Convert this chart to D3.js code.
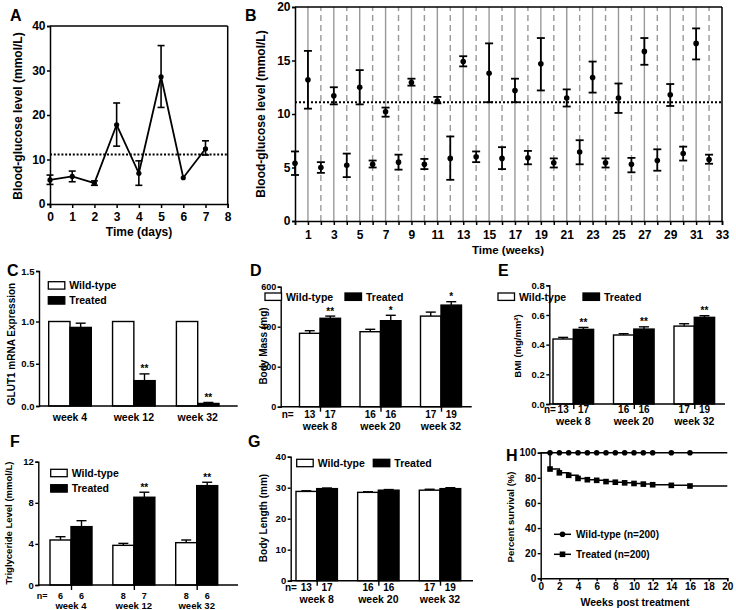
<!DOCTYPE html>
<html><head><meta charset="utf-8">
<script src="https://cdn.jsdelivr.net/npm/d3@7"></script>
<style>
body{margin:0;background:#fff;}
svg text{font-family:"Liberation Sans",Arial,Helvetica,sans-serif;font-weight:bold;fill:#000;}
</style></head><body>
<svg id="fig" width="736" height="610"></svg>
<script>
// ---------------- DATA ----------------
// Panel A
const daysA = [0,1,2,3,4,5,6,7];
const glucoseA = [5.4,6.2,4.7,17.8,6.9,28.6,5.9,12.4];
const glucoseALow = [4.4,5.0,4.2,13.0,4.2,21.7,5.9,11.0];
const glucoseAHigh = [6.5,7.4,5.2,22.7,9.7,35.6,5.9,14.2];
const threshold = 11.1;
const xTicksA = [0,1,2,3,4,5,6,7,8];
const yTicksA = [0,10,20,30,40];

// Panel B
const weeksB = [0,1,2,3,4,5,6,7,8,9,10,11,12,13,14,15,16,17,18,19,20,21,22,23,24,25,26,27,28,29,30,31,32];
const glucoseB = [5.4,13.2,5.0,11.7,5.2,12.5,5.3,10.2,5.5,12.95,5.3,11.2,5.85,14.9,6.0,13.8,5.85,12.2,5.9,14.7,5.45,11.5,6.45,13.4,5.45,11.5,5.3,15.85,5.65,11.8,6.3,16.6,5.75];
const glucoseBLow = [4.3,10.5,4.5,10.9,4.1,10.9,5.0,9.75,4.8,12.65,4.85,11.0,3.85,14.45,5.5,11.1,4.85,11.1,5.3,12.2,5.0,10.7,5.3,12.0,5.0,10.1,4.55,14.6,4.7,10.75,5.65,15.1,5.35];
const glucoseBHigh = [6.5,15.9,5.5,12.5,6.3,14.1,5.65,10.6,6.2,13.3,5.8,11.6,7.9,15.4,6.5,16.6,6.9,13.3,6.55,17.1,5.85,12.3,7.55,14.9,5.85,12.85,5.9,17.1,6.7,12.8,6.95,18.0,6.2];
const xTicksB = [0,1,2,3,4,5,6,7,8,9,10,11,12,13,14,15,16,17,18,19,20,21,22,23,24,25,26,27,28,29,30,31,32,33];
const yTicksB = [0,5,10,15,20];

// Panel C
const groupsC = ["week 4","week 12","week 32"];
const glutWT = [1,1,1];
const glutWTErr = [0,0,0];
const glutTr = [0.93,0.30,0.03];
const glutTrErr = [0.05,0.08,0.012];
const glutSig = ["","**","**"];
const yTicksC = [0,0.5,1.0,1.5];

// Panel D
const groupsD = ["week 8","week 20","week 32"];
const massWT = [367,375,453];
const massWTErr = [13,12,20];
const massTr = [442,430,508];
const massTrErr = [11,27,17];
const massSig = ["**","*","*"];
const nWT_D = ["13","16","17"];
const nTr_D = ["17","16","19"];
const yTicksD = [0,200,400,600];

// Panel E
const groupsE = ["week 8","week 20","week 32"];
const bmiWT = [0.438,0.465,0.525];
const bmiWTErr = [0.011,0.009,0.016];
const bmiTr = [0.503,0.505,0.584];
const bmiTrErr = [0.013,0.015,0.011];
const bmiSig = ["**","**","**"];
const nWT_E = ["13","16","17"];
const nTr_E = ["17","16","19"];
const yTicksE = [0,0.2,0.4,0.6,0.8];

// Panel F
const groupsF = ["week 4","week 12","week 32"];
const tgWT = [4.38,3.86,4.12];
const tgWTErr = [0.32,0.19,0.26];
const tgTr = [5.68,8.54,9.67];
const tgTrErr = [0.58,0.49,0.33];
const tgSig = ["","**","**"];
const nWT_F = ["6","8","8"];
const nTr_F = ["6","7","6"];
const yTicksF = [0,4,8,12];

// Panel G
const groupsG = ["week 8","week 20","week 32"];
const lenWT = [28.8,28.5,29.2];
const lenWTErr = [0.2,0.2,0.3];
const lenTr = [29.7,29.2,29.7];
const lenTrErr = [0.2,0.2,0.3];
const lenSig = ["","",""];
const nWT_G = ["13","16","17"];
const nTr_G = ["17","16","19"];
const yTicksG = [0,10,20,30,40];

// Panel H
const survWeeks = [0,1,2,3,4,5,6,7,8,9,10,11,12,14,16,20];
const survWT = [100,100,100,100,100,100,100,100,100,100,100,100,100,100,100,100];
const survTr = [100,87,84,82,79.5,78.5,78,77,76.5,76,75.5,75,74.5,74,73.5,73.5];
const survMarked = [1,2,3,4,5,6,7,8,9,10,11,12,14,16];
const xTicksH = [0,2,4,6,8,10,12,14,16,18,20];
const yTicksH = [0,20,40,60,80,100];

// ---------------- DRAW ----------------
const svg = d3.select("#fig");
svg.append("rect").attr("width",736).attr("height",610).attr("fill","#fff");

function panelLabel(t,x,y){ svg.append("text").attr("x",x).attr("y",y).attr("font-size",16).text(t); }
function yTitle(t,cx,cy,fs){
  return svg.append("text").attr("transform",`translate(${cx},${cy}) rotate(-90)`)
    .attr("text-anchor","middle").attr("dy","0.35em").attr("font-size",fs).text(t);
}
function styleAxis(g, fs, sw){
  g.attr("font-size",fs);
  g.selectAll("path,line").attr("stroke","#000").attr("stroke-width",sw||1.5);
}
function hline(x1,x2,y,sw){ svg.append("line").attr("x1",x1).attr("x2",x2).attr("y1",y).attr("y2",y).attr("stroke","#000").attr("stroke-width",sw||1.5); }
function vline(x,y1,y2,sw){ svg.append("line").attr("x1",x).attr("x2",x).attr("y1",y1).attr("y2",y2).attr("stroke","#000").attr("stroke-width",sw||1.5); }

// ===== Panel A =====
(function(){
  const x = d3.scaleLinear().domain([0,8]).range([50,227.7]);
  const y = d3.scaleLinear().domain([0,40]).range([204,26]);
  const g = svg.append("g");
  g.append("line").attr("x1",x(0)).attr("x2",x(8)).attr("y1",y(threshold)).attr("y2",y(threshold))
    .attr("stroke","#000").attr("stroke-width",2).attr("stroke-dasharray","2,1.8");
  const pts = daysA.map((d,i)=>({d, v:glucoseA[i], lo:glucoseALow[i], hi:glucoseAHigh[i]}));
  g.append("path").datum(pts).attr("fill","none").attr("stroke","#000").attr("stroke-width",1.8)
    .attr("d", d3.line().x(p=>x(p.d)).y(p=>y(p.v)));
  const eb = g.selectAll(".eb").data(pts.filter(p=>p.hi>p.lo)).join("g");
  eb.append("line").attr("x1",p=>x(p.d)).attr("x2",p=>x(p.d)).attr("y1",p=>y(p.lo)).attr("y2",p=>y(p.hi)).attr("stroke","#000").attr("stroke-width",1.6);
  eb.append("line").attr("x1",p=>x(p.d)-3.5).attr("x2",p=>x(p.d)+3.5).attr("y1",p=>y(p.hi)).attr("y2",p=>y(p.hi)).attr("stroke","#000").attr("stroke-width",1.6);
  eb.append("line").attr("x1",p=>x(p.d)-3.5).attr("x2",p=>x(p.d)+3.5).attr("y1",p=>y(p.lo)).attr("y2",p=>y(p.lo)).attr("stroke","#000").attr("stroke-width",1.6);
  g.selectAll("circle").data(pts).join("circle").attr("cx",p=>x(p.d)).attr("cy",p=>y(p.v)).attr("r",2.6).attr("fill","#000");
  const ax = svg.append("g").attr("transform","translate(0,204)").call(d3.axisBottom(x).tickValues(xTicksA).tickSize(4).tickPadding(4));
  styleAxis(ax,12);
  const ay = svg.append("g").attr("transform","translate(50,0)").call(d3.axisLeft(y).tickValues(yTicksA).tickSize(3).tickPadding(1.5));
  styleAxis(ay,12);
  hline(x(0),x(8),y(40)); vline(x(8),y(40),y(0));
  panelLabel("A",10,21);
  yTitle("Blood-glucose level (mmol/L)",17.5,116,12);
  svg.append("text").attr("x",139).attr("y",236).attr("text-anchor","middle").attr("font-size",12).text("Time (days)");
})();

// ===== Panel B =====
(function(){
  const x = d3.scaleLinear().domain([0,33]).range([295,722]);
  const y = d3.scaleLinear().domain([0,20]).range([221,7]);
  const g = svg.append("g");
  g.selectAll(".grid").data(weeksB.filter(w=>w>0)).join("line")
    .attr("x1",w=>x(w)).attr("x2",w=>x(w)).attr("y1",y(0)).attr("y2",y(20))
    .attr("stroke","#999").attr("stroke-width",1.4)
    .attr("stroke-dasharray",w=>w%2===0?"6,4":null);
  g.append("line").attr("x1",x(0)).attr("x2",x(33)).attr("y1",y(threshold)).attr("y2",y(threshold))
    .attr("stroke","#000").attr("stroke-width",2.2).attr("stroke-dasharray","2,2");
  const pts = weeksB.map((w,i)=>({w, v:glucoseB[i], lo:glucoseBLow[i], hi:glucoseBHigh[i]}));
  const eb = g.selectAll(".eb").data(pts).join("g");
  eb.append("line").attr("x1",p=>x(p.w)).attr("x2",p=>x(p.w)).attr("y1",p=>y(p.lo)).attr("y2",p=>y(p.hi)).attr("stroke","#000").attr("stroke-width",1.8);
  eb.append("line").attr("x1",p=>x(p.w)-4).attr("x2",p=>x(p.w)+4).attr("y1",p=>y(p.hi)).attr("y2",p=>y(p.hi)).attr("stroke","#000").attr("stroke-width",1.8);
  eb.append("line").attr("x1",p=>x(p.w)-4).attr("x2",p=>x(p.w)+4).attr("y1",p=>y(p.lo)).attr("y2",p=>y(p.lo)).attr("stroke","#000").attr("stroke-width",1.8);
  g.selectAll("circle").data(pts).join("circle").attr("cx",p=>x(p.w)).attr("cy",p=>y(p.v)).attr("r",2.8).attr("fill","#000");
  const ax = svg.append("g").attr("transform","translate(0,221)")
    .call(d3.axisBottom(x).tickValues(xTicksB).tickFormat(d=>d%2===1?d:"").tickSize(4).tickPadding(5));
  styleAxis(ax,12);
  const ay = svg.append("g").attr("transform","translate(295,0)").call(d3.axisLeft(y).tickValues(yTicksB).tickSize(3).tickPadding(1.5));
  styleAxis(ay,12);
  hline(x(0),x(33),y(20)); vline(x(33),y(20),y(0));
  panelLabel("B",245,21);
  yTitle("Blood-glucose level (mmol/L)",261,114,12);
  svg.append("text").attr("x",508).attr("y",254).attr("text-anchor","middle").attr("font-size",11.5).text("Time (weeks)");
})();

// ===== Bar panels =====
function barPanel(o){
  const g = svg.append("g");
  const xc = d3.scalePoint().domain(o.groups).range(o.centers);
  const xs = d3.scaleBand().domain(["wt","tr"]).range([-o.bw,o.bw]).padding(0);
  const y = o.y;
  const rows = [];
  o.groups.forEach((grp,i)=>{
    rows.push({grp, s:"wt", v:o.wt[i], e:o.wtErr[i], sig:"", n:o.nWT?o.nWT[i]:null});
    rows.push({grp, s:"tr", v:o.tr[i], e:o.trErr[i], sig:o.sig[i], n:o.nTr?o.nTr[i]:null});
  });
  const cx = d=>xc(d.grp)+xs(d.s)+xs.bandwidth()/2;
  const eb = g.selectAll(".eb").data(rows.filter(d=>d.e>0)).join("g");
  eb.append("line").attr("x1",cx).attr("x2",cx).attr("y1",d=>y(d.v)).attr("y2",d=>y(d.v+d.e)).attr("stroke","#000").attr("stroke-width",1.4);
  eb.append("line").attr("x1",d=>cx(d)-5).attr("x2",d=>cx(d)+5).attr("y1",d=>y(d.v+d.e)).attr("y2",d=>y(d.v+d.e)).attr("stroke","#000").attr("stroke-width",1.4);
  g.selectAll("rect.bar").data(rows).join("rect").attr("class","bar")
    .attr("x",d=>xc(d.grp)+xs(d.s)).attr("y",d=>y(d.v)).attr("width",xs.bandwidth())
    .attr("height",d=>y(0)-y(d.v)).attr("fill",d=>d.s==="wt"?"#fff":"#000")
    .attr("stroke","#000").attr("stroke-width",1.4);
  g.selectAll("text.sig").data(rows.filter(d=>d.sig)).join("text").attr("class","sig")
    .attr("x",cx).attr("y",d=>y(d.v+d.e)-1.5).attr("text-anchor","middle").attr("font-size",10).text(d=>d.sig);
  // axes
  const ay = svg.append("g").attr("transform",`translate(${o.yAxisX},0)`)
    .call(d3.axisLeft(y).tickValues(o.yTicks).tickFormat(o.fmt).tickSize(3).tickPadding(1.5));
  styleAxis(ay,o.tickFs||9.5,1.4);
  hline(o.yAxisX,o.xEnd,y(0),1.4);
  const nFs = o.nFs||10, wkFs = o.wkFs||10.5;
  if(o.nWT){
    const ax = svg.append("g").attr("transform",`translate(0,${y(0)})`).call(d3.axisBottom(xc).tickSize(5).tickFormat(""));
    ax.select(".domain").remove();
    styleAxis(ax,10,1.4);
    g.selectAll("text.n").data(rows).join("text").attr("class","n").attr("x",cx).attr("y",o.nY)
      .attr("text-anchor","middle").attr("font-size",nFs).text(d=>d.n);
    svg.append("text").attr("x",o.nX).attr("y",o.nY).attr("font-size",nFs).text("n=");
  }
  g.selectAll("text.wk").data(o.groups).join("text").attr("class","wk").attr("x",d=>xc(d)).attr("y",o.wkY)
    .attr("text-anchor","middle").attr("font-size",wkFs).text(d=>d);
  // legend
  const lg = svg.append("g");
  const items = [{t:"Wild-type",f:"#fff"},{t:"Treated",f:"#000"}];
  items.forEach((it,i)=>{
    const p = o.legend[i];
    lg.append("rect").attr("x",p[0]).attr("y",p[1]).attr("width",16.5).attr("height",7.4)
      .attr("fill",it.f).attr("stroke","#000").attr("stroke-width",1.3);
    lg.append("text").attr("x",p[0]+21).attr("y",p[1]+7.6).attr("font-size",o.legFs||10.5).text(it.t);
  });
  panelLabel(o.label,o.labelPos[0],o.labelPos[1]);
  yTitle(o.title,o.titlePos[0],o.titlePos[1],o.titleFs);
}

barPanel({label:"C",labelPos:[7,276],title:"GLUT1 mRNA Expression",titlePos:[11,344],titleFs:10,
  groups:groupsC,wt:glutWT,wtErr:glutWTErr,tr:glutTr,trErr:glutTrErr,sig:glutSig,
  centers:[70,197.7],bw:21.3,
  y:d3.scaleLinear().domain([0,1,1.5]).range([406,321.5,271]),
  yTicks:yTicksC,fmt:d3.format(".1f"),yAxisX:39,xEnd:237.7,wkY:421,
  legend:[[48.3,281.7],[48.3,296.7]]});

barPanel({label:"D",labelPos:[250,276],title:"Body Mass (mg)",titlePos:[263,346],titleFs:10,
  groups:groupsD,wt:massWT,wtErr:massWTErr,tr:massTr,trErr:massTrErr,sig:massSig,nWT:nWT_D,nTr:nTr_D,
  centers:[320,441],bw:20.5,
  y:d3.scaleLinear().domain([0,600]).range([406.7,286.7]),
  yTicks:yTicksD,fmt:d3.format("d"),yAxisX:280.7,xEnd:471.7,nX:281.7,nY:417.5,wkY:429.5,tickFs:9,
  legend:[[265,293],[345,293]]});

barPanel({label:"E",labelPos:[498,276],title:"BMI (mg/mm²)",titlePos:[518,346],titleFs:9.5,
  groups:groupsE,wt:bmiWT,wtErr:bmiWTErr,tr:bmiTr,trErr:bmiTrErr,sig:bmiSig,nWT:nWT_E,nTr:nTr_E,
  centers:[573.3,694.3],bw:20.3,
  y:d3.scaleLinear().domain([0,0.8]).range([404,285.3]),
  yTicks:yTicksE,fmt:d3.format(".1f"),yAxisX:549.3,xEnd:725,nX:544,nY:412.5,wkY:424.5,
  legend:[[498,293],[583,293]]});

barPanel({label:"F",labelPos:[10,447],title:"Triglyceride Level (mmol/L)",titlePos:[9,523],titleFs:9.5,
  groups:groupsF,wt:tgWT,wtErr:tgWTErr,tr:tgTr,trErr:tgTrErr,sig:tgSig,nWT:nWT_F,nTr:nTr_F,
  centers:[71,196.7],bw:21,
  y:d3.scaleLinear().domain([0,12]).range([585,461.7]),
  yTicks:yTicksF,fmt:d3.format("d"),yAxisX:38.3,xEnd:238,nX:36.7,nY:598.5,wkY:609,nFs:9,wkFs:9.5,
  legend:[[50.7,469.3],[50.7,484.7]]});

barPanel({label:"G",labelPos:[248,447],title:"Body Length (mm)",titlePos:[263,518],titleFs:10,
  groups:groupsG,wt:lenWT,wtErr:lenWTErr,tr:lenTr,trErr:lenTrErr,sig:lenSig,nWT:nWT_G,nTr:nTr_G,
  centers:[316.7,440],bw:20.7,
  y:d3.scaleLinear().domain([0,40]).range([580.7,456.7]),
  yTicks:yTicksG,fmt:d3.format("d"),yAxisX:290.7,xEnd:473,nX:285,nY:590.5,wkY:602.7,
  legend:[[296.7,459.3],[373.3,459.3]]});

// ===== Panel H =====
(function(){
  const x = d3.scaleLinear().domain([0,20]).range([540.7,727.3]);
  const y = d3.scaleLinear().domain([0,100]).range([578.3,452.7]);
  const g = svg.append("g");
  const wt = survWeeks.map((w,i)=>({w,v:survWT[i]}));
  const tr = survWeeks.map((w,i)=>({w,v:survTr[i]}));
  const line = d3.line().x(d=>x(d.w)).y(d=>y(d.v)).curve(d3.curveStepAfter);
  g.append("path").datum(wt).attr("d",line).attr("fill","none").attr("stroke","#000").attr("stroke-width",1.5);
  g.append("path").datum(tr).attr("d",line).attr("fill","none").attr("stroke","#000").attr("stroke-width",1.5);
  g.selectAll("circle").data(wt.filter(d=>survMarked.includes(d.w))).join("circle")
    .attr("cx",d=>x(d.w)).attr("cy",d=>y(d.v)).attr("r",2.8).attr("fill","#000");
  g.selectAll("rect").data(tr.filter(d=>survMarked.includes(d.w))).join("rect")
    .attr("x",d=>x(d.w)-2.8).attr("y",d=>y(d.v)-2.8).attr("width",5.6).attr("height",5.6).attr("fill","#000");
  const ax = svg.append("g").attr("transform","translate(0,578.3)").call(d3.axisBottom(x).tickValues(xTicksH).tickSize(3).tickPadding(2));
  styleAxis(ax,10,1.4);
  const ay = svg.append("g").attr("transform","translate(540.7,0)").call(d3.axisLeft(y).tickValues(yTicksH).tickSize(3).tickPadding(1.5));
  styleAxis(ay,10,1.4);
  // legend
  const lg = svg.append("g");
  lg.append("line").attr("x1",554).attr("x2",571).attr("y1",534.3).attr("y2",534.3).attr("stroke","#000").attr("stroke-width",1.5);
  lg.append("circle").attr("cx",562.5).attr("cy",534.3).attr("r",2.8).attr("fill","#000");
  lg.append("text").attr("x",576).attr("y",538).attr("font-size",10).text("Wild-type (n=200)");
  lg.append("line").attr("x1",554).attr("x2",571).attr("y1",554.3).attr("y2",554.3).attr("stroke","#000").attr("stroke-width",1.5);
  lg.append("rect").attr("x",559.7).attr("y",551.5).attr("width",5.6).attr("height",5.6).attr("fill","#000");
  lg.append("text").attr("x",576).attr("y",558).attr("font-size",10).text("Treated (n=200)");
  panelLabel("H",506,461);
  yTitle("Percent survival (%)",511,517,9.5);
  svg.append("text").attr("x",635).attr("y",606).attr("text-anchor","middle").attr("font-size",10.5).text("Weeks post treatment");
})();
</script>
</body></html>
